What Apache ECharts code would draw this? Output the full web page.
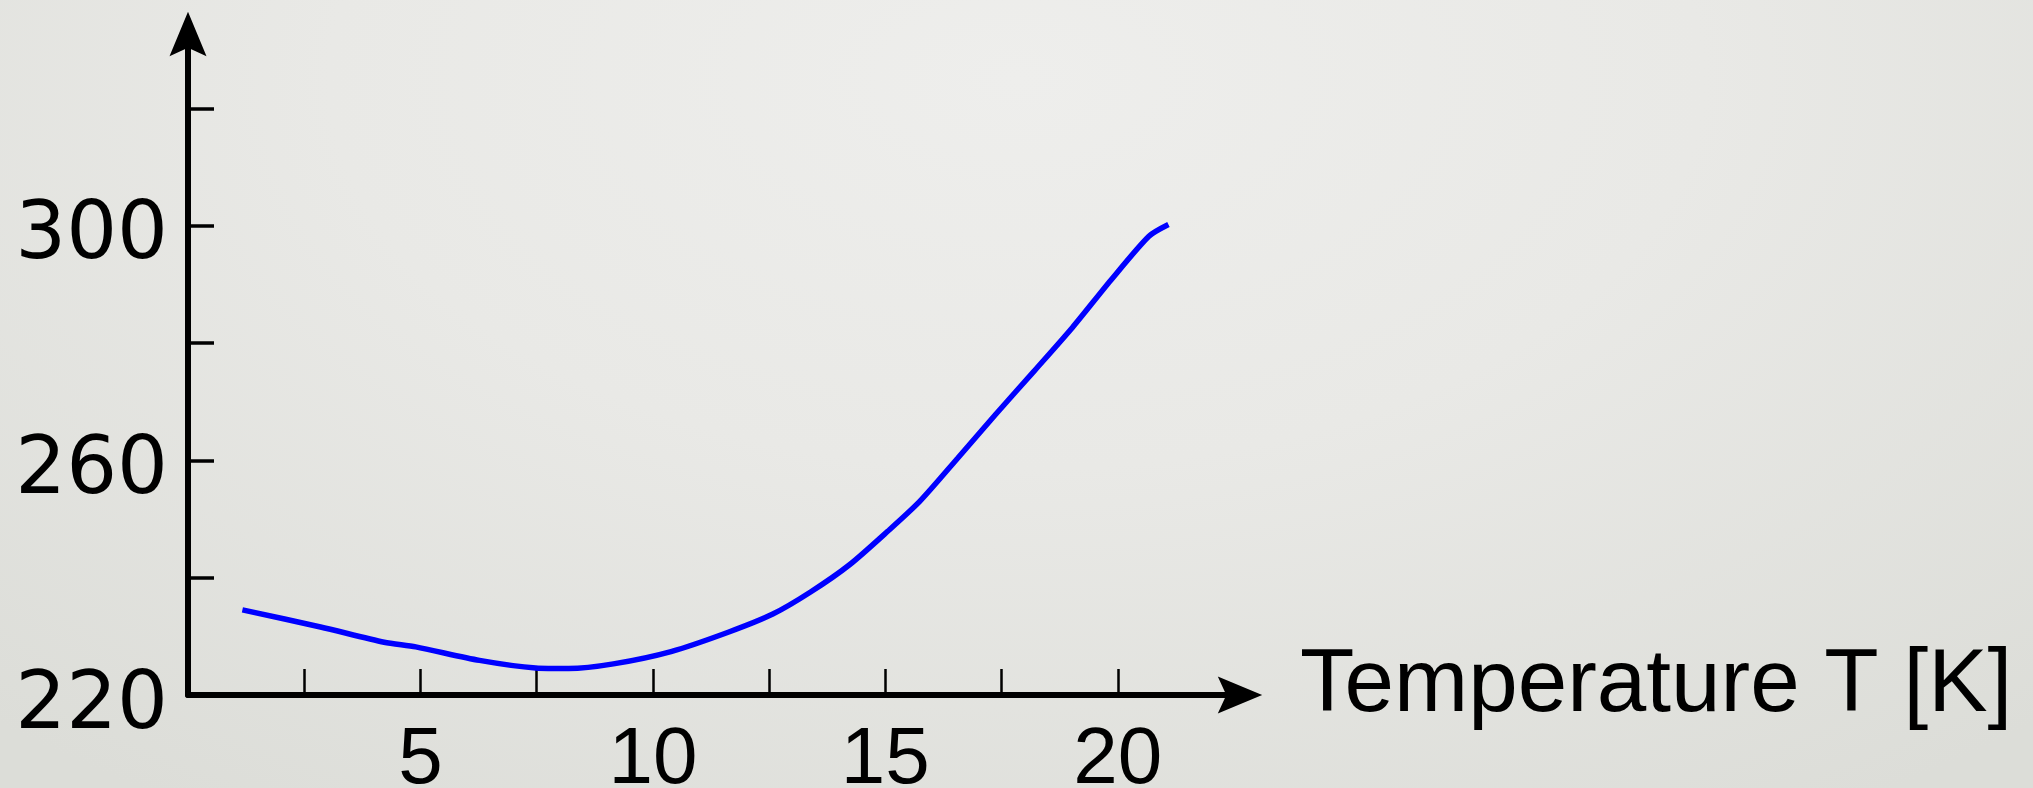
<!DOCTYPE html>
<html>
<head>
<meta charset="utf-8">
<script src="https://cdn.jsdelivr.net/npm/echarts@6/dist/echarts.min.js"></script>
<style>
  html, body { margin: 0; padding: 0; }
  body {
    width: 2033px; height: 788px; overflow: hidden;
    background: radial-gradient(ellipse 75% 110% at 50% 10%, #eeeeec 0%, #e9e9e6 45%, #dcddd8 100%);
  }
  #chart { width: 2033px; height: 788px; }
</style>
</head>
<body>
<div id="chart"></div>
<script>
// Data
const temperatureK = [1.17, 2.85, 4.22, 4.90, 6.27, 7.48, 8.19, 9.15, 10.39, 11.62, 12.58, 13.40, 14.23, 15.05, 15.74, 16.56, 17.38, 18.21, 19.03, 19.85, 20.67, 21.09];
const curveValues  = [234.5, 231.6, 229.0, 228.2, 225.9, 224.6, 224.5, 225.3, 227.4, 230.7, 233.8, 237.6, 242.2, 247.9, 253.0, 260.4, 267.9, 275.3, 282.7, 290.7, 298.2, 300.2];
const xTickValues  = [2.5, 5, 7.5, 10, 12.5, 15, 17.5, 20];
const xLabelValues = [5, 10, 15, 20];
const yTickValues  = [240, 260, 280, 300, 320];
const yLabelValues = [220, 260, 300];
const xAxisTitle   = 'Temperature T [K]';

const points = temperatureK.map((t, i) => [t, curveValues[i]]);
const arrowPath = 'path://M5,0 L10,12 L5,9.7 L0,12 Z';

const chart = echarts.init(document.getElementById('chart'), null, { renderer: 'canvas' });
chart.setOption({
  animation: false,
  backgroundColor: 'transparent',
  grid: { left: 188, top: 35, width: 1046, height: 660, containLabel: false, outerBoundsMode: 'none' },
  xAxis: {
    type: 'value',
    min: 0, max: 22.5,
    name: xAxisTitle,
    nameLocation: 'end',
    nameGap: 66,
    nameTextStyle: { fontFamily: 'Liberation Sans, Arial, sans-serif', fontSize: 89, color: '#000', verticalAlign: 'bottom', lineHeight: 18 },
    axisLine: { show: true, lineStyle: { color: '#000', width: 6 }, symbol: ['none', arrowPath], symbolSize: [37, 48], symbolOffset: [0, 6] },
    axisTick: { show: true, inside: true, length: 26, lineStyle: { color: '#000', width: 2.5 }, customValues: xTickValues },
    axisLabel: { show: true, margin: 26, fontFamily: 'Liberation Sans, Arial, sans-serif', fontSize: 80, color: '#000', customValues: xLabelValues },
    splitLine: { show: false }
  },
  yAxis: {
    type: 'value',
    min: 220, max: 332.5,
    axisLine: { show: true, lineStyle: { color: '#000', width: 6 }, symbol: ['none', arrowPath], symbolSize: [37, 48], symbolOffset: [0, 1] },
    axisTick: { show: true, inside: true, length: 26, lineStyle: { color: '#000', width: 3.5 }, customValues: yTickValues },
    axisLabel: { show: true, margin: 20, fontFamily: 'DejaVu Sans, sans-serif', fontSize: 80, color: '#000', verticalAlign: 'top', lineHeight: 24, customValues: yLabelValues },
    splitLine: { show: false }
  },
  series: [{
    type: 'line',
    data: points,
    smooth: 0.25,
    showSymbol: false,
    lineStyle: { color: '#0000ff', width: 5.5 },
    itemStyle: { color: '#0000ff' }
  }]
});
</script>
</body>
</html>
